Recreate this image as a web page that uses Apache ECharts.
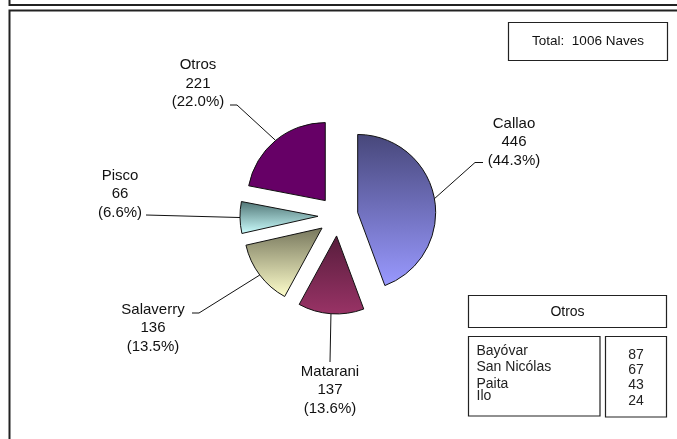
<!DOCTYPE html>
<html>
<head>
<meta charset="utf-8">
<script src="https://cdn.jsdelivr.net/npm/echarts@6/dist/echarts.min.js"></script>
<style>html,body{margin:0;padding:0;background:#fff}#c{width:677px;height:439px}</style>
</head>
<body>
<div id="c"></div>
<script>
// ---- data ----
const categories = ['Callao', 'Matarani', 'Salaverry', 'Pisco', 'Otros'];
const values = [446, 137, 136, 66, 221];
const totalText = 'Total:  1006 Naves';
const otrosTitle = 'Otros';
const otrosNames = ['Bayóvar', 'San Nicólas', 'Paita', 'Ilo'];
const otrosValues = [87, 67, 43, 24];

// ---- styles / layout (not data) ----
const gradTop = ['#47477a', '#571d3c', '#76765c', '#4f7474', '#660066'];
const gradBottom = ['#9999ff', '#993366', '#ffffcc', '#ccffff', '#660066'];
const CENTER = [338, 216];
const RADIUS = 78;
const EXPLODE = 20;
const labelPos = [[514, 142], [330, 390], [153, 328], [120, 194], [198, 83.5]];
const labelBends = [
  [[475, 162.5], [483, 162.5]],
  [[330, 362]],
  [[199, 313], [192, 313]],
  [[146, 215]],
  [[237, 105], [230, 105]]
];
const FONT = '"Liberation Sans", Arial, sans-serif';

const chart = echarts.init(document.getElementById('c'), null, {renderer: 'canvas'});
const total = values.reduce((a, b) => a + b, 0);

const pieData = categories.map((name, i) => ({
  name: name,
  value: values[i],
  selected: true,
  itemStyle: {
    color: new echarts.graphic.LinearGradient(0, 0, 0, 1, [
      {offset: 0, color: gradTop[i]},
      {offset: 1, color: gradBottom[i]}
    ])
  }
}));
const labelData = categories.map((name, i) => ({name: name, value: values[i]}));

const tableText = (arr, x, y0, dy, align) => arr.map((t, i) => ({
  type: 'text', x: x, y: y0 + dy[i],
  style: {text: String(t), font: '14px ' + FONT, fill: '#222', textAlign: align, textVerticalAlign: 'middle'}
}));

chart.setOption({
  animation: false,
  backgroundColor: '#fff',
  graphic: [
    {type: 'polyline', shape: {points: [[9.5, 0], [9.5, 5], [677, 5]]}, style: {stroke: '#222', lineWidth: 2, fill: null}},
    {type: 'polyline', shape: {points: [[9.5, 445], [9.5, 10.5], [677, 10.5]]}, style: {stroke: '#222', lineWidth: 2, fill: null}},
    {type: 'rect', shape: {x: 508.5, y: 22.5, width: 159, height: 38}, style: {stroke: '#222', lineWidth: 1.2, fill: '#fff'}},
    {type: 'text', x: 588, y: 41.5, style: {text: totalText, font: '13.5px ' + FONT, fill: '#111', textAlign: 'center', textVerticalAlign: 'middle'}},
    {type: 'rect', shape: {x: 468.5, y: 295.5, width: 198, height: 32}, style: {stroke: '#222', lineWidth: 1.2, fill: '#fff'}},
    {type: 'text', x: 567.5, y: 312, style: {text: otrosTitle, font: '14px ' + FONT, fill: '#111', textAlign: 'center', textVerticalAlign: 'middle'}},
    {type: 'rect', shape: {x: 468.5, y: 336.5, width: 131.5, height: 79.5}, style: {stroke: '#222', lineWidth: 1.2, fill: '#fff'}},
    {type: 'rect', shape: {x: 605.5, y: 336.5, width: 61, height: 80.5}, style: {stroke: '#222', lineWidth: 1.2, fill: '#fff'}},
    ...tableText(otrosNames, 476.5, 351.5, [0, 15.5, 32.5, 45], 'left'),
    ...tableText(otrosValues, 636, 355, [0, 15, 30, 46.5], 'center')
  ],
  series: [{
    type: 'pie',
    center: CENTER,
    radius: RADIUS,
    startAngle: 90,
    clockwise: true,
    selectedMode: 'multiple',
    selectedOffset: EXPLODE,
    avoidLabelOverlap: false,
    data: pieData,
    itemStyle: {borderColor: '#111', borderWidth: 1},
    emphasis: {disabled: true},
    select: {itemStyle: {borderColor: '#111', borderWidth: 1}},
    label: {show: false},
    labelLine: {show: false}
  }, {
    // label carrier: same layout, invisible sectors
    type: 'pie',
    center: CENTER,
    radius: RADIUS,
    startAngle: 90,
    clockwise: true,
    silent: true,
    selectedMode: false,
    avoidLabelOverlap: false,
    data: labelData,
    itemStyle: {color: 'rgba(0,0,0,0)', borderWidth: 0},
    emphasis: {disabled: true},
    label: {
      show: true,
      position: 'outside',
      formatter: p => p.name + '\n' + p.value + '\n(' + (p.value / total * 100).toFixed(1) + '%)',
      fontFamily: FONT,
      fontSize: 15,
      lineHeight: 18.5,
      color: '#111',
      align: 'center'
    },
    labelLine: {show: true, length: 10, length2: 10, lineStyle: {color: '#111', width: 1}},
    labelLayout: function (params) {
      const i = params.dataIndex;
      const s = params.labelLinePoints[0];
      const k = EXPLODE / RADIUS;
      const start = [s[0] + (s[0] - CENTER[0]) * k, s[1] + (s[1] - CENTER[1]) * k];
      return {
        x: labelPos[i][0],
        y: labelPos[i][1],
        align: 'center',
        verticalAlign: 'middle',
        labelLinePoints: [start].concat(labelBends[i])
      };
    }
  }]
});
</script>
</body>
</html>
